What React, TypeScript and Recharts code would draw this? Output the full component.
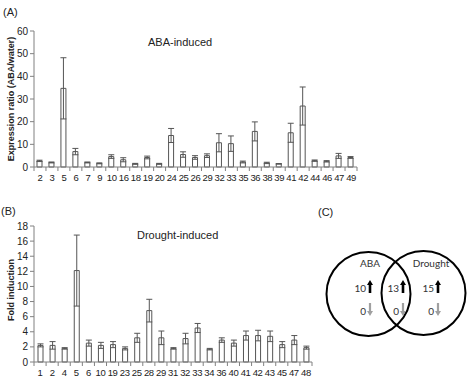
import React from "react";
import { BarChart, Bar, XAxis, YAxis, ErrorBar } from "recharts";

// (A) ABA-induced expression ratio
const abaGenes = ["2", "3", "5", "6", "7", "9", "10", "16", "18", "19", "20", "24", "25", "26", "29", "32", "33", "35", "36", "38", "39", "41", "42", "44", "46", "47", "49"];
const abaRatio = [2.7, 2.0, 34.7, 6.8, 2.0, 1.6, 4.6, 3.2, 1.4, 4.2, 1.4, 13.9, 5.5, 4.2, 5.0, 10.7, 10.3, 2.2, 15.7, 1.8, 1.4, 15.1, 26.9, 2.8, 2.5, 4.9, 4.2];
const abaErr = [0.3, 0.2, 13.5, 1.4, 0.2, 0.2, 0.8, 0.9, 0.2, 0.6, 0.2, 3.1, 1.2, 0.8, 0.8, 4.0, 3.4, 0.4, 4.2, 0.3, 0.1, 4.2, 8.4, 0.3, 0.3, 1.1, 0.4];
const abaTicks = [0, 10, 20, 30, 40, 50, 60];

// (B) drought-induced fold induction
const droughtGenes = ["1", "2", "4", "5", "6", "10", "19", "23", "25", "28", "29", "31", "32", "33", "34", "36", "40", "41", "42", "43", "45", "47", "48"];
const droughtFold = [2.2, 2.2, 1.8, 12.1, 2.5, 2.2, 2.3, 1.8, 3.2, 6.8, 3.2, 1.8, 3.1, 4.5, 1.7, 2.9, 2.5, 3.5, 3.5, 3.4, 2.3, 2.9, 1.9];
const droughtErr = [0.2, 0.5, 0.1, 4.7, 0.4, 0.4, 0.4, 0.2, 0.6, 1.5, 0.9, 0.1, 0.7, 0.6, 0.1, 0.3, 0.4, 0.6, 0.7, 0.7, 0.4, 0.6, 0.2];
const droughtTicks = [0, 2, 4, 6, 8, 10, 12, 14, 16, 18];

// (C) venn counts: [up, down] for ABA only, both, drought only
const vennCounts = [
  [10, 0],
  [13, 0],
  [15, 0],
];

const abaData = abaGenes.map((g, i) => ({ gene: g, value: abaRatio[i], err: abaErr[i] }));
const droughtData = droughtGenes.map((g, i) => ({ gene: g, value: droughtFold[i], err: droughtErr[i] }));

const FONT = "'Liberation Sans', Arial, sans-serif";
const AXIS = "#808080";

// excel-style tick: marks sit between categories
function BoundaryTick(props: any) {
  const { x, y, payload, index, visibleTicksCount } = props;
  const off = payload.offset || 0;
  const last = index === visibleTicksCount - 1;
  return (
    <g>
      <line x1={x - off} x2={x - off} y1={y} y2={y + 4} stroke={AXIS} />
      {last && <line x1={x + off} x2={x + off} y1={y} y2={y + 4} stroke={AXIS} />}
      <text x={x} y={y + 14} textAnchor="middle" fontSize={9.5} letterSpacing={-0.4} fontFamily={FONT} fill="#222">
        {payload.value}
      </text>
    </g>
  );
}

function GeneBars({ data, ticks, width }: { data: any[]; ticks: number[]; width: number }) {
  return (
    <BarChart width={width} height={190} data={data} margin={{ top: 31, right: 13, bottom: 3, left: 0 }}>
      <XAxis
        dataKey="gene"
        interval={0}
        height={20}
        tickLine={false}
        tickSize={0}
        tickMargin={0}
        stroke={AXIS}
        tick={(p: any) => <BoundaryTick {...p} />}
      />
      <YAxis
        width={34}
        domain={[0, ticks[ticks.length - 1]]}
        ticks={ticks}
        interval={0}
        tickSize={4}
        stroke={AXIS}
        tick={{ fontSize: 10, fontFamily: FONT, fill: "#222" }}
      />
      <Bar dataKey="value" fill="#fff" stroke="#555" strokeWidth={1} barSize={5} isAnimationActive={false}>
        <ErrorBar dataKey="err" width={3} stroke="#555" strokeWidth={1} direction="y" />
      </Bar>
    </BarChart>
  );
}

function UpArrow({ x, y }: { x: number; y: number }) {
  return <path d={`M${x - 1.3},${y + 13} L${x - 1.3},${y + 5} L${x - 3},${y + 5} L${x},${y} L${x + 3},${y + 5} L${x + 1.3},${y + 5} L${x + 1.3},${y + 13} Z`} fill="#000" />;
}

function DownArrow({ x, y }: { x: number; y: number }) {
  return <path d={`M${x - 1.1},${y} L${x - 1.1},${y + 8} L${x - 3},${y + 8} L${x},${y + 13} L${x + 3},${y + 8} L${x + 1.1},${y + 8} L${x + 1.1},${y} Z`} fill="#a0a0a0" />;
}

function Venn() {
  const cols = [366, 399, 434];
  const vf = "Lato, 'Open Sans', sans-serif";
  return (
    <svg width={474} height={377} style={{ position: "absolute", left: 0, top: 0 }}>
      <circle cx={368.5} cy={294} r={42} fill="none" stroke="#000" strokeWidth={2} />
      <circle cx={423.5} cy={293} r={42} fill="none" stroke="#000" strokeWidth={2} />
      <text x={370} y={267} textAnchor="middle" fontSize={10} fontFamily={vf} fill="#333">ABA</text>
      <text x={431} y={267} textAnchor="middle" fontSize={10} fontFamily={vf} fill="#333">Drought</text>
      {vennCounts.map((c, i) => (
        <g key={i}>
          <text x={cols[i]} y={292} textAnchor="end" fontSize={10} fontFamily={vf} fill="#333">{c[0]}</text>
          <UpArrow x={cols[i] + 4} y={280} />
          <text x={cols[i]} y={315} textAnchor="end" fontSize={10} fontFamily={vf} fill="#333">{c[1]}</text>
          <DownArrow x={cols[i] + 4} y={303} />
        </g>
      ))}
    </svg>
  );
}

export default function App() {
  return (
    <div style={{ position: "fixed", left: 0, top: 0, width: 474, height: 377, background: "#fff", overflow: "hidden" }}>
      <div style={{ position: "absolute", left: 0, top: 0 }}>
        <GeneBars data={abaData} ticks={abaTicks} width={370} />
      </div>
      <div style={{ position: "absolute", left: 0, top: 195 }}>
        <GeneBars data={droughtData} ticks={droughtTicks} width={325} />
      </div>
      <svg width={474} height={377} style={{ position: "absolute", left: 0, top: 0, pointerEvents: "none" }}>
        <text x={3} y={16} fontSize={11} fontFamily={FONT} fill="#222">(A)</text>
        <text x={148} y={46} fontSize={11} fontFamily={FONT} fill="#222">ABA-induced</text>
        <text x={0} y={0} transform="translate(14,99) rotate(-90)" textAnchor="middle" fontSize={9} fontWeight="bold" fontFamily={FONT} fill="#222">
          Expression ratio (ABA/water)
        </text>
        <text x={1} y={215} fontSize={11} fontFamily={FONT} fill="#222">(B)</text>
        <text x={137} y={239} fontSize={11} fontFamily={FONT} fill="#222">Drought-induced</text>
        <text x={0} y={0} transform="translate(14,290) rotate(-90)" textAnchor="middle" fontSize={9} fontWeight="bold" fontFamily={FONT} fill="#222">
          Fold induction
        </text>
        <text x={318} y={216} fontSize={11} fontFamily={FONT} fill="#222">(C)</text>
      </svg>
      <Venn />
    </div>
  );
}
